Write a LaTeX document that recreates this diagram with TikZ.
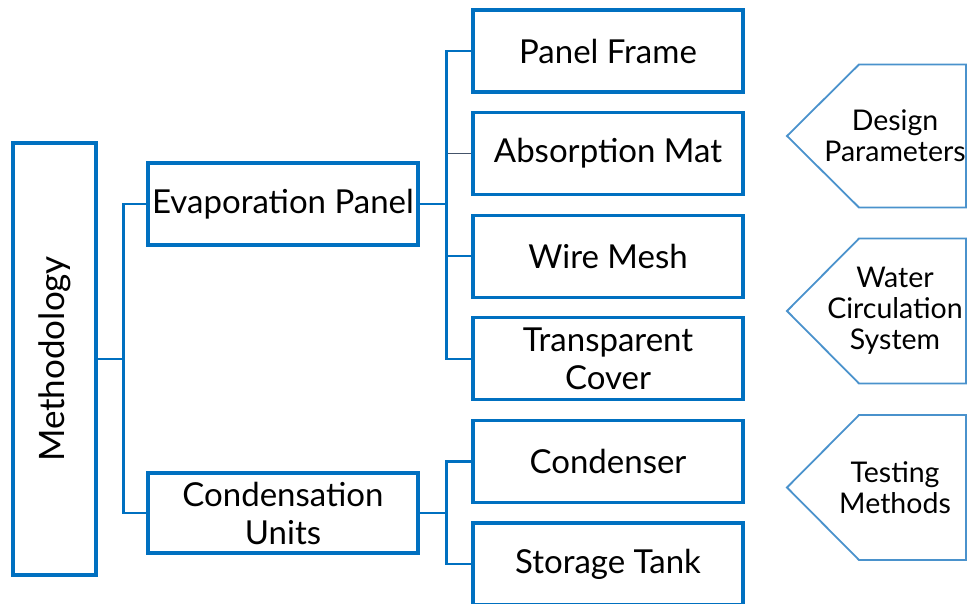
\documentclass[tikz,border=0pt]{standalone}
\usepackage{fontspec}
\setmainfont{Lato}
\usepackage{xcolor}
\usepackage{tikz}
\usetikzlibrary{positioning}
\definecolor{boxblue}{HTML}{0070C0}
\definecolor{tagblue}{HTML}{4A92CC}
\definecolor{slate}{HTML}{44546A}
\tikzstyle{box} = [draw=boxblue, line width=3.1pt, fill=white, minimum width=270pt, minimum height=82pt, inner xsep=0pt, align=center, font=\fontsize{33}{38}\selectfont]
\tikzstyle{link} = [draw=boxblue, line width=2.6pt]
\tikzstyle{greylink} = [draw=slate, line width=1.8pt]
\tikzstyle{tag} = [draw=tagblue, line width=1.8pt]
\tikzstyle{tagtext} = [align=center, inner sep=0pt, font=\fontsize{28.5}{31}\selectfont]

\begin{document}
\begin{tikzpicture}[x=1pt, y=1pt, node distance=102.6pt]
		\useasboundingbox (0,0) rectangle (968,603);

		\node (meth) [box, minimum width=83pt, minimum height=432pt, font=\fontsize{35}{40}\selectfont] at (54.5,244) {\rotatebox{90}{Methodology}};
		\node (evap) [box] at (283,399) {Evaporation Panel};
		\node (cond) [box, minimum height=80pt] at (283,90) {Condensation\\Units};

		\node (pframe) [box] at (608,552) {Panel Frame};
		\node (absmat) [box, below of=pframe] {Absorption Mat};
		\node (mesh) [box, below of=absmat] {Wire Mesh};
		\node (cover) [box, below of=mesh] {Transparent\\Cover};
		\node (condenser) [box, below of=cover] {Condenser};
		\node (tank) [box, below of=condenser] {Storage Tank};

		\draw [link] (meth.east) -- ++(26,0) |- (evap.west);
		\draw [link] (meth.east) -- ++(26,0) |- (cond.west);

		\draw [greylink] (evap.east) -- ++(27,0) |- (absmat.west);
		\draw [link] (evap.east) -- ++(27,0) |- (pframe.west);
		\draw [link] (evap.east) -- ++(27,0) |- (mesh.west);
		\draw [link] (evap.east) -- ++(27,0) |- (cover.west);
		\draw [link] (cond.west -| cond.east) -- ++(27,0) |- (condenser.west);
		\draw [link] (cond.west -| cond.east) -- ++(27,0) |- (tank.west);

		\node (design) [tagtext] at (895,467) {Design\\Parameters};
		\node (water) [tagtext] at (895,292) {Water\\Circulation\\System};
		\node (testing) [tagtext] at (895,115.5) {Testing\\Methods};

		\draw [tag] ([xshift=-108pt]design.center) -- ++(72,71.5) -- ++(107,0) -- ++(0,-143) -- ++(-107,0) -- cycle;
		\draw [tag] ([xshift=-108pt]water.center) -- ++(72,72.5) -- ++(107,0) -- ++(0,-145) -- ++(-107,0) -- cycle;
		\draw [tag] ([xshift=-108pt]testing.center) -- ++(72,72.5) -- ++(107,0) -- ++(0,-145) -- ++(-107,0) -- cycle;
	\end{tikzpicture}
\end{document}
